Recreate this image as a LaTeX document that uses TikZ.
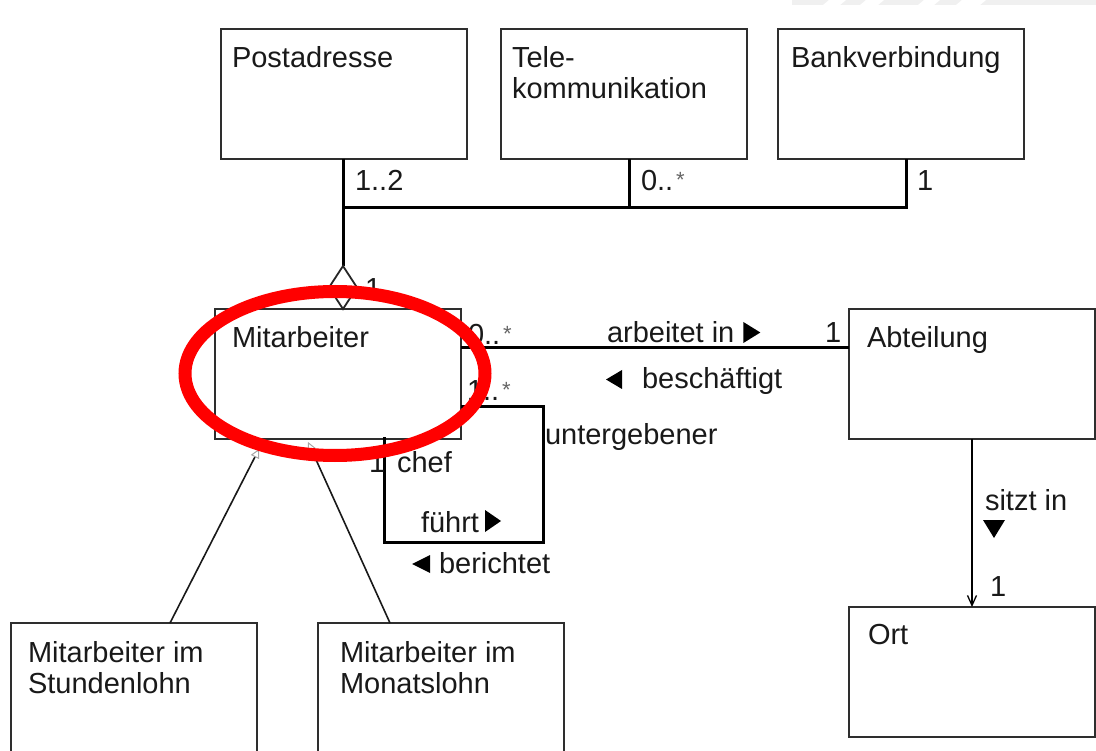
\documentclass[tikz,border=0pt]{standalone}
\usepackage{fontspec}
\setmainfont{Liberation Sans}
\usetikzlibrary{arrows.meta,calc}
% small raised multiplicity star
\newcommand{\mstar}{\kern3pt\raisebox{3.5pt}{\fontsize{22}{22}\selectfont\color{black!60}*}}

\begin{document}
\begin{tikzpicture}[x=1pt,y=-1pt,
  cls/.style={draw=black!82, line width=1.6pt, minimum width=246pt, minimum height=130pt,
              inner sep=0pt, outer sep=0pt, anchor=north west},
  txt/.style={font=\fontsize{29}{33}\selectfont, text=black!90, inner sep=0pt, outer sep=0pt,
              anchor=base west},
  assoc/.style={line width=3pt, black},
  aggr/.style={line width=1.8pt, draw=black!85, fill=white, line join=miter},
  gen/.style={line width=1.6pt, black!90,
              -{Triangle[open, length=9pt, width=9pt, line width=1pt, color=black!35]}},
  nav/.style={line width=2.4pt, black,
              -{Straight Barb[length=10pt, width=9pt, line width=1.3pt]}},
  dirmark/.style={fill=black},
  highlight/.style={draw=red, line width=13pt},
]
\useasboundingbox (0,0) rectangle (1096,751);
\clip (0,0) rectangle (1096,751);

% faint band in the upper right corner
\fill[black!6] (792,0) -- (1096,0) -- (1096,5) -- (792,5) -- cycle;
\fill[white] (829,0) -- (846,0) -- (840,5) -- (823,5) -- cycle;
\fill[white] (866,0) -- (884,0) -- (878,5) -- (860,5) -- cycle;
\fill[white] (924,0) -- (940,0) -- (934,5) -- (918,5) -- cycle;
\fill[white] (962,0) -- (986,0) -- (980,5) -- (956,5) -- cycle;

% classes
\node[cls] (post) at (221,29)  {};
\node[cls] (tele) at (501,29)  {};
\node[cls] (bank) at (778,29)  {};
\node[cls] (mit)  at (215,309) {};
\node[cls] (abt)  at (849,309) {};
\node[cls] (ort)  at (849,607) {};
\node[cls] (stl)  at (11,623)  {};
\node[cls] (mon)  at (318,623) {};

\node[txt] (tpost) at (232,68)  {Postadresse};
\node[txt] (ttel1) at (512,68)  {Tele-};
\node[txt] (ttel2) at (512,99)  {kommunikation};
\node[txt] (tbank) at (791,68)  {Bankverbindung};
\node[txt] (tmit)  at (232,348) {Mitarbeiter};
\node[txt] (tabt)  at (867,348) {Abteilung};
\node[txt] (tort)  at (868,644) {Ort};
\node[txt] (tstl1) at (28,662)  {Mitarbeiter im};
\node[txt] (tstl2) at (28,693)  {Stundenlohn};
\node[txt] (tmon1) at (340,662) {Mitarbeiter im};
\node[txt] (tmon2) at (340,693) {Monatslohn};

% aggregation of the contact data
\coordinate (jp) at (343,208);
\coordinate (jt) at (629,208);
\coordinate (jb) at (906,208);
\coordinate (dtop) at (343,266);
\draw[assoc] (post.south -| jp) -- (jp) -- (jb) -- (bank.south -| jb);
\draw[assoc] (jt) -- (tele.south -| jt);
\draw[assoc] (jp) -- (dtop);
\draw[aggr] (dtop) -- ++(14,21.5) -- (mit.north -| dtop) -- ++(-14,-21.5) -- cycle;

\node[txt] (m12)  at (355,191) {1..2};
\node[txt] (m0t)  at (641,191) {0..\mstar};
\node[txt] (m1b)  at (917,191) {1};
\node[txt] (m1a)  at (365,299) {1};

% Mitarbeiter -- Abteilung
\draw[assoc] ($(mit.north east)+(0,39)$) -- ($(abt.north west)+(0,39)$);
\node[txt] (m0m) at (468,345) {0..\mstar};
\node[txt] (ai)  at (607,343) {arbeitet in};
\fill[dirmark, shift={(ai.base east)}] (9,-21) -- (26,-10.5) -- (9,0) -- cycle;
\node[txt] (m1d) at (825,343) {1};
\node[txt] (bs)  at (642,389) {beschäftigt};
\fill[dirmark, shift={(bs.base west)}] (-36,-9.5) -- (-20,-19) -- (-20,0) -- cycle;

% reflexive association chef / untergebener
\coordinate (sb) at (543,542);
\draw[assoc] ($(mit.north east)+(0,98)$) -| (sb) -| ($(mit.south west)+(169,-2)$);
\node[txt] (m1s) at (467,401) {1..\mstar};
\node[txt] (ug)  at (545,445) {untergebener};
\node[txt] (m1c) at (369,472) {1};
\node[txt] (ch)  at (397,472) {chef};
\node[txt] (fu)  at (421,532) {führt};
\fill[dirmark, shift={(fu.base east)}] (6,-22) -- (22,-11) -- (6,0) -- cycle;
\node[txt] (be)  at (439,573) {berichtet};
\fill[dirmark, shift={(be.base west)}] (-27,-9) -- (-9,-18) -- (-9,0) -- cycle;

% Abteilung -> Ort
\draw[nav] (abt.south) -- (ort.north);
\node[txt] (si)  at (985,510) {sitzt in};
\fill[dirmark, shift={(si.base west)}] (-2,10) -- (20,10) -- (9,28) -- cycle;
\node[txt] (m1o) at (990,596) {1};

% generalisation
\coordinate (g1) at (259,449);
\coordinate (g2) at (308,442);
\draw[gen] ($(stl.north west)+(159,0)$) -- (g1);
\draw[gen] ($(mon.north west)+(72,0)$) -- (g2);

% red highlight
\draw[highlight] (335,373.5) ellipse [x radius=150, y radius=82];
\end{tikzpicture}
\end{document}
